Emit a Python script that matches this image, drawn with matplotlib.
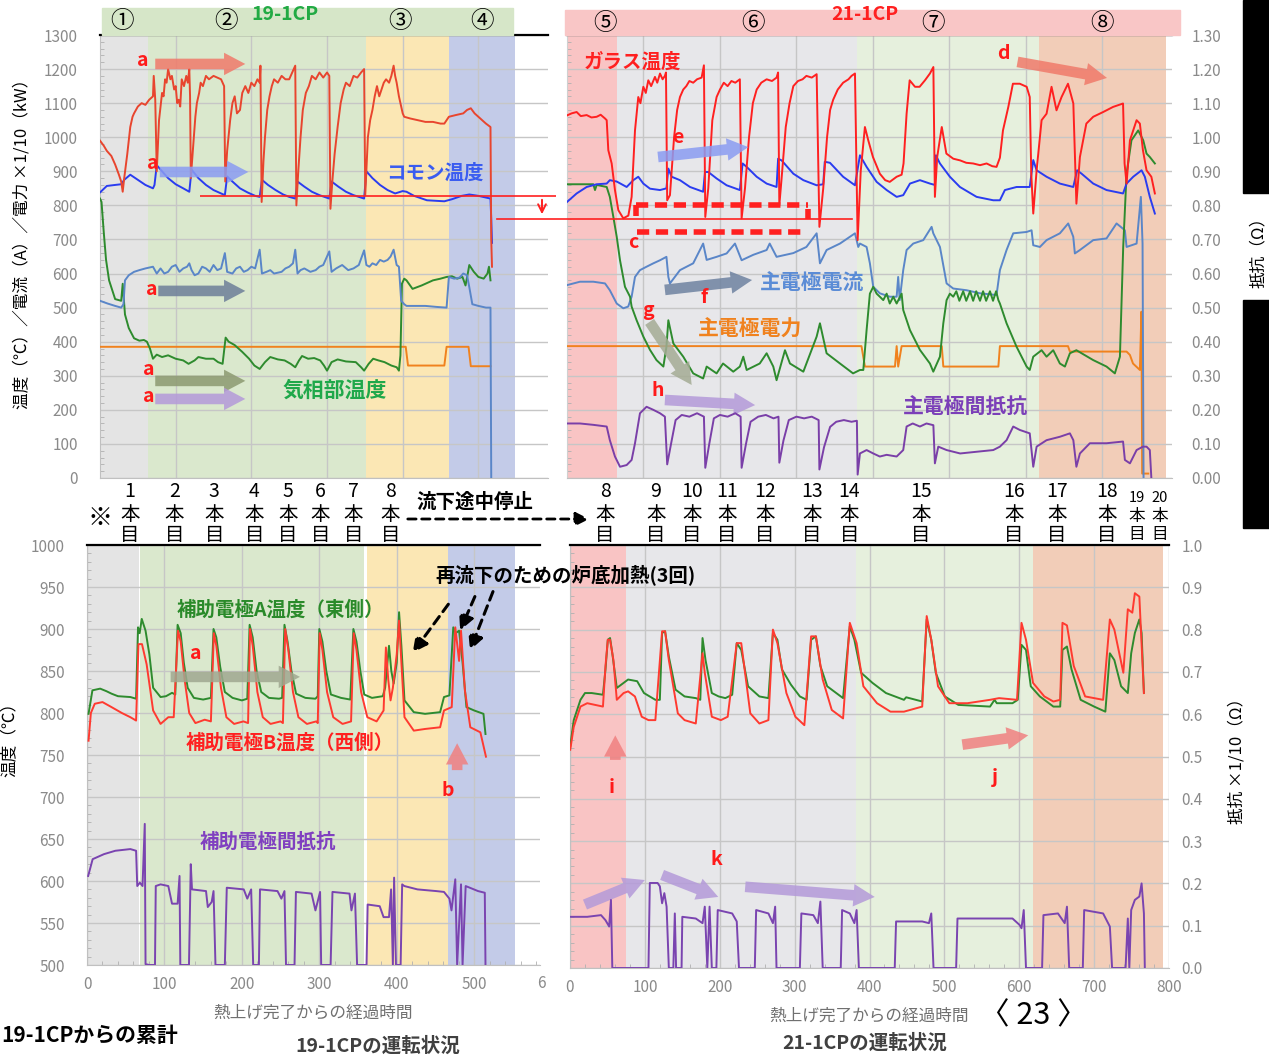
import numpy as np
import matplotlib
matplotlib.use("Agg")
import matplotlib.pyplot as plt
from matplotlib.patches import Rectangle
from matplotlib.lines import Line2D
from matplotlib.ticker import MultipleLocator, FormatStrFormatter
import matplotlib.transforms as mtrans

plt.rcParams['font.family'] = ['Noto Sans CJK JP', 'DejaVu Sans']

# ---------------- data: 19-1CP (top left), (time, value) ----------------
glass_19 = np.array([
    (0, 990), (5, 975), (9, 960), (15, 945), (20, 920), (25, 890), (28, 870), (30, 840), (32, 880), (36, 950),
    (40, 1030), (43, 1060), (45, 1070), (50, 1090), (55, 1100), (60, 1095), (65, 1110), (70, 1120), (71, 1180),
    (73, 1110), (75, 900), (78, 1050), (80, 1090), (82, 1130), (84, 1120), (86, 1170), (88, 1160), (90, 1200),
    (93, 1170), (95, 1180), (98, 1140), (100, 1150), (102, 1100), (104, 1110), (106, 1090), (108, 1170),
    (111, 1150), (114, 1180), (116, 1160), (118, 1200), (119, 1120), (120, 880), (124, 1000), (126, 1060),
    (128, 1100), (131, 1130), (133, 1160), (136, 1150), (140, 1180), (144, 1170), (150, 1180), (155, 1175),
    (160, 1170), (164, 1150), (165.5, 870), (168, 960), (172, 1050), (175, 1100), (178, 1120), (181, 1070),
    (185, 1080), (188, 1130), (192, 1150), (196, 1130), (200, 1160), (204, 1150), (208, 1170), (211, 1160),
    (212, 1210), (213.6, 810), (216, 930), (218, 1000), (221, 1080), (224, 1120), (227, 1150), (230, 1170),
    (235, 1160), (240, 1180), (245, 1170), (250, 1170), (253, 1185), (256, 1200), (258, 1210), (259.5, 800),
    (262, 900), (265, 1000), (268, 1080), (272, 1130), (276, 1150), (280, 1180), (285, 1170), (290, 1190),
    (295, 1175), (300, 1190), (303, 1180), (304.5, 790), (307, 870), (310, 950), (314, 1030), (318, 1100),
    (322, 1140), (325, 1160), (330, 1150), (335, 1180), (340, 1175), (345, 1190), (349, 1200), (350.5, 830),
    (354, 1000), (357, 1050), (360, 1080), (363, 1120), (366, 1150), (369, 1120), (372, 1140), (375, 1160),
    (378, 1170), (382, 1160), (385, 1180), (388, 1210), (390, 1180), (392, 1160), (395, 1120), (397, 1100),
    (400, 1070), (402, 1060), (410, 1055), (420, 1050), (430, 1045), (440, 1045), (450, 1040), (455, 1040),
    (461, 1060), (470, 1065), (480, 1070), (485, 1080), (490, 1085), (495, 1070), (500, 1060), (505, 1050),
    (510, 1040), (516, 1030), (517, 700), (518, 620)])

common_19 = np.array([
    (0, 838), (9, 857), (20, 860), (28, 862), (32, 875), (40, 890), (50, 875), (60, 860), (70, 850), (72, 860),
    (75, 918), (82, 900), (90, 880), (100, 862), (110, 850), (118, 840), (121, 905), (130, 880), (140, 860),
    (150, 845), (160, 835), (165, 830), (168, 885), (175, 870), (185, 850), (195, 838), (205, 828), (211, 825),
    (214, 875), (222, 860), (232, 845), (242, 832), (250, 825), (258, 820), (261, 870), (270, 855), (280, 840),
    (290, 830), (303, 820), (306, 870), (315, 855), (325, 840), (335, 830), (349, 820), (352, 900), (360, 880),
    (370, 860), (380, 845), (390, 835), (400, 842), (405, 840), (415, 828), (432, 815), (455, 812), (465, 818),
    (478, 828), (488, 832), (500, 828), (512, 822), (516, 820), (517, 760), (518, 690)])

current_19 = np.array([
    (0, 520), (10, 512), (20, 505), (28, 500), (31, 510), (33, 580), (38, 595), (45, 605), (52, 610), (60, 615),
    (70, 620), (75, 600), (80, 615), (85, 600), (90, 605), (95, 620), (100, 625), (105, 605), (110, 615),
    (115, 620), (118, 630), (121, 610), (125, 595), (130, 600), (135, 620), (140, 615), (145, 605), (150, 625),
    (155, 610), (160, 615), (165, 660), (168, 605), (175, 600), (180, 615), (185, 620), (190, 605), (195, 610),
    (200, 620), (205, 615), (211, 670), (214, 600), (220, 605), (225, 610), (230, 600), (240, 605), (245, 615),
    (250, 620), (255, 630), (258, 670), (261, 600), (265, 610), (270, 615), (278, 605), (285, 610), (290, 620),
    (295, 625), (303, 665), (306, 605), (312, 615), (320, 625), (328, 610), (335, 615), (342, 625), (349, 668),
    (352, 625), (356, 620), (360, 630), (365, 625), (370, 640), (375, 635), (380, 640), (384, 650), (388, 670),
    (392, 625), (395, 620), (398, 520), (402, 510), (405, 505), (420, 505), (430, 505), (445, 502), (458, 500),
    (461, 590), (468, 585), (475, 588), (480, 600), (485, 595), (488, 560), (492, 510), (500, 505), (510, 500),
    (516, 500), (517, 0)])

gas_19 = np.array([
    (0, 820), (2, 810), (5, 720), (8, 640), (12, 580), (20, 525), (28, 520), (30, 570), (33, 480), (38, 440),
    (45, 410), (52, 403), (58, 405), (62, 400), (66, 380), (70, 350), (75, 362), (82, 355), (90, 360), (100, 350),
    (110, 345), (117, 335), (125, 345), (130, 355), (140, 350), (150, 350), (156, 340), (162, 335), (166, 412),
    (170, 400), (178, 390), (188, 370), (197, 350), (204, 330), (211, 320), (218, 340), (225, 355), (235, 348),
    (244, 345), (252, 335), (258, 325), (263, 345), (267, 358), (275, 350), (283, 352), (291, 345), (296, 330),
    (300, 315), (306, 340), (314, 348), (325, 342), (338, 340), (345, 325), (349, 315), (355, 335), (361, 350),
    (368, 345), (376, 340), (385, 330), (392, 325), (395, 315), (397, 360), (399, 570), (402, 585), (405, 580),
    (413, 555), (425, 565), (440, 580), (450, 585), (458, 590), (465, 592), (472, 585), (479, 590), (483, 565),
    (486, 600), (488, 625), (494, 605), (500, 590), (507, 585), (512, 600), (514, 620), (516, 580)])

power_19 = np.array([
    (0, 385), (100, 385), (200, 385), (300, 385), (404, 385), (407, 330), (455, 330), (458, 385), (487, 385),
    (490, 328), (516, 328)])

res_19 = np.array([  # ohm
    (0, 0.144), (9.4, 0.125), (18.8, 0.105), (25.8, 0.086), (30.5, 0.052), (33.8, 0.105), (42.3, 0.120),
    (51.6, 0.164), (56.3, 0.183), (65.7, 0.193), (71.4, 0.203), (73.7, 0.057), (77.5, 0.125), (84.5, 0.203),
    (90, 0.190), (93.9, 0.222), (98, 0.200), (103.3, 0.208), (108, 0.183), (112.7, 0.203), (117.4, 0.213),
    (120.7, 0.047), (124.4, 0.105), (131.5, 0.183), (136, 0.170), (140.8, 0.213), (145, 0.195), (150.2, 0.203),
    (155, 0.185), (159.6, 0.193), (165.3, 0.066), (169, 0.125), (178.4, 0.183), (183, 0.165), (187.8, 0.213),
    (192, 0.190), (197.2, 0.164), (202, 0.195), (206.6, 0.203), (213.6, 0.032), (218.3, 0.105), (225.4, 0.183),
    (230, 0.170), (234.7, 0.213), (240, 0.195), (244.1, 0.203), (249, 0.185), (253.5, 0.193), (258.2, 0.047),
    (262.9, 0.105), (272.3, 0.193), (277, 0.175), (281.7, 0.203), (286, 0.190), (291, 0.203), (296, 0.185),
    (300.5, 0.193), (302.8, 0.027), (307.5, 0.125), (314.6, 0.193), (319, 0.180), (324, 0.203), (330, 0.190),
    (338, 0.198), (343, 0.185), (347.4, 0.193), (348.8, 0.037), (354.5, 0.125), (361.5, 0.193), (366, 0.180),
    (371, 0.203), (376, 0.190), (380.3, 0.193), (385, 0.185), (389.7, 0.190), (399, 0.183), (403.8, 0.159),
    (420, 0.157), (432, 0.159), (445, 0.156), (455.4, 0.159), (465, 0.152), (479, 0.154), (490, 0.150),
    (502.3, 0.154), (515.5, 0.149), (516.4, 0)])

# ---------------- data: 21-1CP (top right) ----------------
glass_21 = np.array([
    (0, 1064), (6, 1070), (12.6, 1074), (18, 1062), (25.7, 1065), (32, 1058), (38.8, 1060), (44, 1066),
    (49.7, 1055), (51.9, 1050), (54, 962), (58.4, 923), (62.7, 845), (67.1, 786), (73.6, 762), (80.2, 770),
    (84.5, 825), (88.9, 1020), (93.2, 1118), (96, 1100), (99.8, 1148), (103, 1130), (106.3, 1167), (110, 1150),
    (115, 1177), (118, 1160), (121.6, 1187), (125, 1170), (128, 1180), (129.4, 1190), (131, 815), (134.6, 830),
    (140, 1000), (144, 1080), (147.7, 1118), (152, 1140), (156, 1150), (160, 1165), (165, 1160), (170, 1170),
    (176, 1175), (179, 1211), (180.8, 766), (184.7, 850), (190, 1050), (195.6, 1118), (200, 1140), (205, 1160),
    (210, 1150), (215, 1165), (220, 1160), (226, 1170), (228.3, 762), (232.7, 850), (238, 1000), (243, 1100),
    (248, 1140), (254, 1160), (261, 1170), (268, 1165), (274, 1175), (276, 1190), (277.6, 800), (280.6, 880),
    (286, 1030), (291, 1100), (295.9, 1150), (302, 1165), (308, 1170), (313, 1180), (320, 1175), (326.4, 1185),
    (330, 737), (335, 850), (340, 1000), (344, 1080), (348, 1110), (354, 1140), (361, 1160), (368, 1170),
    (372, 1180), (376.5, 1187), (380, 698), (384, 900), (389.5, 1030), (394, 990), (400, 942), (409, 893),
    (416, 874), (422, 869), (431, 884), (437.5, 890), (440, 923), (444, 1069), (448, 1167), (455, 1148),
    (461, 1148), (468, 1167), (474.5, 1187), (479, 1206), (481, 825), (484, 942), (490, 1030), (496, 952),
    (505, 937), (514, 932), (522, 925), (531, 923), (540, 918), (548.6, 923), (556, 915), (561.6, 913),
    (566, 940), (570, 1020), (577, 1089), (583, 1157), (592, 1157), (601, 1148), (605, 1118), (607, 893),
    (609.6, 776), (614, 903), (620.5, 1050), (627, 1069), (633.5, 1148), (640, 1079), (646.6, 1118),
    (655, 1157), (662, 1099), (666, 805), (670.6, 942), (679, 1040), (688, 1060), (701, 1074), (714, 1089),
    (722, 1095), (727, 1099), (729, 923), (731.6, 864), (736, 991), (744.7, 1050), (749, 1040), (753, 962),
    (757.7, 903), (764, 884), (768.6, 835)])

common_21 = np.array([
    (0, 810), (12.6, 835), (25.7, 854), (38.8, 862), (51.9, 864), (56, 874), (65, 870), (78, 854), (86.7, 874),
    (93.2, 884), (99.8, 864), (108.5, 849), (121.6, 845), (130, 850), (132.5, 908), (136.8, 884), (147.7, 874),
    (160.8, 854), (178, 840), (180.4, 898), (184.7, 898), (195.6, 879), (208.7, 859), (226, 845), (229.6, 923),
    (234.9, 913), (248, 884), (261, 864), (274, 854), (276, 937), (280.6, 932), (295.9, 893), (309, 874),
    (326.4, 859), (335, 862), (337, 928), (343.8, 925), (361, 884), (376.5, 859), (383, 947), (391.7, 913),
    (404.8, 869), (417.9, 845), (431, 825), (439.6, 830), (448.4, 864), (461.4, 874), (474.5, 864), (481, 860),
    (482.3, 947), (487.6, 923), (500.6, 884), (513.7, 854), (535.5, 825), (557.3, 815), (566, 815),
    (572.5, 845), (587.8, 854), (605, 854), (609.6, 933), (614, 903), (627, 884), (644.4, 864), (661.9, 854),
    (667, 903), (672.8, 893), (688, 864), (705.4, 845), (727, 835), (731.6, 864), (740.3, 884), (751.2, 903),
    (755.5, 884), (762, 825), (768.6, 776)])

current_21 = np.array([
    (0, 566), (17, 576), (34.4, 576), (49.7, 571), (56, 551), (65, 512), (73.6, 498), (80, 503), (84.5, 532),
    (88.9, 590), (95.4, 610), (104, 620), (112.9, 630), (121.6, 639), (130, 649), (132.5, 590), (134.6, 571),
    (147.7, 610), (165, 630), (178, 688), (182.6, 640), (195.6, 649), (208.7, 659), (219.6, 688), (228.3, 639),
    (243.6, 655), (261, 669), (265, 688), (274, 649), (295.9, 660), (313, 678), (326.4, 718), (330.7, 630),
    (339.4, 669), (356.9, 688), (376.5, 718), (380.8, 678), (383, 688), (391.7, 678), (396, 630), (400.4, 561),
    (409, 542), (422, 532), (431, 532), (433, 590), (435, 522), (439.6, 610), (444, 669), (452.7, 688),
    (465.8, 698), (476.7, 737), (478.9, 718), (487.6, 678), (496.3, 571), (505, 556), (522.4, 551),
    (539.9, 542), (561.6, 537), (566, 610), (574.7, 669), (583.4, 718), (600.9, 722), (607.4, 727),
    (609.6, 683), (618.3, 678), (627, 698), (644.4, 718), (655.3, 747), (661.9, 708), (664, 659), (670.6, 669),
    (688, 698), (705.4, 703), (718.5, 747), (729.4, 727), (731.6, 678), (744.7, 688), (750.3, 825),
    (752.5, 688), (753.8, 0)])

gas_21 = np.array([
    (0, 862), (34.4, 862), (36.6, 845), (38.8, 860), (51.9, 854), (56, 825), (60.6, 766), (65, 708), (69.3, 639),
    (75.8, 561), (82.4, 532), (84.5, 503), (91, 463), (99.8, 415), (108.5, 376), (117, 346), (126, 327),
    (130, 385), (132.5, 463), (139, 395), (152, 356), (165, 307), (178, 292), (182.6, 327), (195.6, 307),
    (204, 336), (217.4, 312), (226, 327), (230.5, 356), (234.9, 317), (252, 336), (261, 366), (269.7, 327),
    (274, 287), (285, 375), (291.5, 336), (309, 312), (326.4, 415), (330.7, 454), (339.4, 366), (356.9, 336),
    (374, 307), (383, 317), (387.4, 317), (391.7, 434), (396, 541), (400.4, 561), (404.8, 541), (409, 532),
    (413.5, 522), (417.9, 541), (422, 512), (426.6, 532), (431, 512), (437.5, 541), (439.6, 493), (448.4, 434),
    (461.4, 376), (474.5, 336), (478.9, 312), (487.6, 356), (492, 454), (496.3, 522), (500.6, 541), (505, 532),
    (509, 548), (513, 520), (518, 548), (522, 520), (527, 548), (531, 520), (535, 548), (540, 520), (544, 548),
    (548, 520), (553, 548), (557, 520), (561, 548), (564, 522), (566, 512), (574.7, 454), (587.8, 385),
    (600.9, 327), (605, 317), (609.6, 356), (620.5, 375), (627, 356), (635.7, 375), (644.4, 336), (651, 327),
    (657.5, 366), (666, 375), (688, 346), (705.4, 327), (716.3, 307), (722.9, 356), (727.2, 678), (731.6, 893),
    (738, 991), (746.8, 1020), (753.4, 991), (757.7, 952), (762, 942), (768.6, 923)])

power_21 = np.array([
    (0, 387), (385, 387), (389.5, 327), (428.8, 327), (431, 387), (433, 327), (437.5, 387), (490, 387),
    (492, 327), (564, 327), (566, 387), (655, 387), (657.5, 371), (731.6, 371), (736, 361), (740, 336),
    (749, 317), (751, 488), (752, 13), (760, 13)])

res_21 = np.array([  # ohm
    (0, 0.160), (17, 0.160), (34.4, 0.156), (51.9, 0.151), (56, 0.111), (62.7, 0.063), (69.3, 0.033),
    (78, 0.038), (84.5, 0.053), (88.9, 0.102), (95.4, 0.190), (104, 0.209), (112.9, 0.200), (121.6, 0.190),
    (128, 0.180), (131, 0.040), (136, 0.100), (142, 0.170), (150, 0.185), (160, 0.180), (170, 0.190),
    (179, 0.180), (180.8, 0.030), (186, 0.100), (192, 0.175), (200, 0.185), (210, 0.180), (220, 0.190),
    (227, 0.180), (228.3, 0.030), (234, 0.100), (240, 0.165), (250, 0.180), (260, 0.185), (270, 0.175),
    (276.5, 0.180), (277.6, 0.045), (283, 0.110), (290, 0.170), (300, 0.180), (310, 0.175), (320, 0.180),
    (329, 0.170), (330, 0.025), (336, 0.090), (344, 0.150), (352, 0.165), (362, 0.170), (372, 0.165),
    (379, 0.168), (380, 0.010), (383, 0.072), (391.7, 0.082), (400.4, 0.072), (409, 0.063), (417.9, 0.068),
    (431, 0.063), (439.6, 0.082), (444, 0.151), (452, 0.160), (461.4, 0.151), (470, 0.160), (479, 0.155),
    (481, 0.043), (485.4, 0.092), (496.3, 0.082), (514, 0.072), (535.5, 0.077), (557.3, 0.082), (566, 0.092),
    (574.7, 0.111), (583.4, 0.151), (592, 0.141), (605, 0.131), (609.6, 0.033), (614, 0.092), (627, 0.111),
    (644.4, 0.121), (657.5, 0.131), (662, 0.111), (666, 0.033), (670.6, 0.072), (683.6, 0.102), (705.4, 0.102),
    (727, 0.107), (729.4, 0.053), (736, 0.043), (744.7, 0.082), (753, 0.092), (757.7, 0.092), (762, 0.082),
    (764, 0)])

# ---------------- data: auxiliary electrodes (bottom) ----------------
auxA_19 = np.array([
    (2, 799), (7, 827), (17, 829), (25, 826), (31.7, 823), (40, 820), (56, 819), (63.4, 817), (65.9, 902),
    (68, 895), (70.7, 912), (75.6, 898), (80.5, 870), (85.4, 830), (95, 819), (102, 820), (109.8, 824),
    (114, 822), (117, 905), (121, 895), (125, 860), (130, 830), (138, 818), (150, 816), (160, 818), (163.4, 900),
    (167, 890), (172, 855), (178, 825), (188, 818), (200, 815), (207, 817), (210, 905), (214, 890), (219, 850),
    (225, 825), (235, 818), (248, 817), (252, 818), (255, 905), (259, 885), (264, 850), (270, 823), (282, 818),
    (295, 817), (298, 820), (300, 900), (304, 885), (309, 850), (315, 822), (328, 818), (340, 816), (344, 900),
    (348, 885), (353, 850), (358, 822), (368, 818), (382, 820), (385, 830), (390, 880), (393, 850), (396, 835),
    (400, 860), (403, 920), (406, 880), (410, 815), (422, 801), (436.6, 799), (456, 801), (461, 819), (468, 821),
    (473, 902), (476, 895), (480.5, 898), (485, 860), (490, 807), (500, 803), (512, 799), (514.6, 775)])

auxB_19 = np.array([
    (2, 767), (5, 800), (10, 811), (20, 813), (31.7, 807), (45, 800), (56, 795), (63.4, 791), (66.5, 882),
    (71, 882), (77, 858), (85.4, 803), (95, 787), (105, 795), (112, 795), (117.5, 898), (121, 885), (126, 840),
    (132, 800), (140, 788), (152, 792), (160, 790), (163.8, 895), (167, 880), (173, 830), (180, 795), (190, 787),
    (202, 790), (208, 788), (210.5, 900), (214, 880), (220, 825), (227, 795), (237, 787), (250, 790), (253, 788),
    (256, 900), (260, 875), (266, 825), (273, 795), (284, 787), (296, 790), (298, 788), (300.5, 895), (304, 875),
    (310, 825), (318, 795), (330, 787), (341, 790), (344.5, 895), (348, 875), (354, 825), (362, 795), (374, 790),
    (383, 803), (386, 878), (389, 840), (392, 815), (395, 830), (400, 870), (403, 910), (406, 860), (410, 795),
    (422, 779), (436.6, 781), (456, 783), (461, 803), (471, 807), (475.6, 902), (480.5, 862), (483, 898),
    (488, 827), (495, 783), (508, 777), (515.2, 748)])

aux_res_19 = np.array([  # x1/10 ohm
    (1.5, 0.212), (7.3, 0.252), (22, 0.264), (36.6, 0.272), (56, 0.276), (63.4, 0.272), (64.9, 0.188),
    (68.3, 0.196), (71.7, 0.188), (74.6, 0.336), (75.6, 0.002), (80.5, 0), (87.8, 0), (88.8, 0.188), (95, 0.192),
    (105, 0.188), (109.8, 0.146), (117, 0.146), (119.5, 0.212), (120.5, 0), (131.7, 0), (134, 0.24),
    (135.6, 0.18), (153.7, 0.176), (156, 0.138), (161, 0.15), (163.4, 0.176), (165.9, 0), (178, 0),
    (180.5, 0.184), (202.4, 0.18), (207, 0.158), (212, 0.18), (214.6, 0), (222, 0), (223.4, 0.18), (246, 0.176),
    (251, 0.158), (255, 0.176), (257, 0), (268, 0), (269.8, 0.174), (290, 0.17), (295, 0.13), (301, 0.174),
    (302.4, 0), (314.6, 0), (317, 0.174), (339, 0.17), (341.5, 0.13), (346, 0.17), (348.8, 0), (361, 0),
    (362.4, 0.144), (378, 0.14), (383, 0.114), (390, 0.114), (392.7, 0.18), (395, 0), (396.6, 0.208), (399, 0),
    (405, 0), (407, 0.192), (409.8, 0.188), (426.8, 0.18), (451, 0.176), (461, 0.174), (468, 0.158),
    (470.7, 0.13), (475.6, 0.204), (478, 0), (483, 0.192), (485, 0), (489, 0.188), (505, 0.176), (513.7, 0.172),
    (514.6, 0)])

auxA_21 = np.array([
    (0.3, 762), (5, 793), (14, 817), (20, 825), (29, 825), (44, 823), (47.4, 853), (50.5, 888), (53.5, 890),
    (56.5, 872), (62.5, 831), (71.6, 837), (77.6, 841), (89.7, 839), (98.8, 825), (114, 817), (120, 817),
    (123, 896), (127, 898), (132, 868), (141, 829), (153, 821), (168, 819), (174, 817), (177, 890), (181, 864),
    (189.4, 825), (198.5, 821), (207.5, 819), (216.6, 823), (222.7, 884), (228.7, 876), (237.8, 833),
    (252.9, 821), (265, 819), (271, 896), (277, 888), (283, 853), (295, 835), (307, 821), (316, 817), (322, 888),
    (328.4, 892), (334.4, 857), (343.5, 833), (355.6, 825), (364.7, 819), (373.7, 904), (379.8, 888),
    (388.8, 849), (404, 837), (422, 825), (446, 817), (449, 820), (470.4, 815), (476.4, 912), (482.5, 888),
    (488.5, 849), (500.6, 821), (518.7, 811), (561, 809), (567, 817), (570, 813), (591, 813), (598, 817),
    (603, 882), (609, 876), (615.4, 833), (627.5, 821), (645.6, 809), (654.7, 809), (657.7, 876), (663.7, 880),
    (669.8, 853), (682, 817), (700, 809), (715, 803), (721, 872), (727, 864), (736, 833), (745, 825),
    (749.5, 872), (754.4, 896), (760.4, 912), (763.4, 896), (766.5, 825)])

auxB_21 = np.array([
    (0.3, 758), (5, 785), (14, 809), (23, 813), (44, 809), (47.4, 857), (50.5, 888), (53.5, 888), (58, 864),
    (62.5, 817), (71.6, 825), (77.6, 827), (86.7, 821), (95.8, 797), (104.8, 793), (114, 793), (123, 898),
    (127, 898), (132, 864), (144, 801), (153, 793), (168, 789), (177, 872), (180, 849), (189.4, 797),
    (201.5, 793), (210.6, 797), (222.7, 884), (228.7, 884), (240.8, 801), (252.9, 789), (265, 793), (271, 900),
    (277, 884), (289, 825), (301, 797), (313, 787), (322, 892), (328.4, 892), (337.5, 841), (349.6, 805),
    (364.7, 795), (373.7, 908), (382.8, 884), (391.8, 833), (410, 813), (428, 803), (446, 803), (470.4, 809),
    (476.4, 916), (482.5, 888), (491.5, 833), (506.6, 813), (530.8, 813), (561, 817), (573, 819), (597, 817),
    (603, 908), (609, 888), (618.4, 837), (633.5, 821), (645.6, 815), (654.7, 817), (657.7, 908), (663.7, 905),
    (672.8, 857), (688, 821), (712, 817), (721, 912), (727, 900), (739, 849), (745, 924), (751, 920),
    (754.4, 943), (760.4, 939), (766.5, 825)])

aux_res_21 = np.array([  # x1/10 ohm
    (0, 0.121), (23, 0.121), (41.4, 0.125), (47.4, 0.113), (52.3, 0.098), (54.7, 0.161), (56.5, 0),
    (104.8, 0), (106.6, 0.201), (117, 0.201), (120, 0.193), (123, 0.153), (126, 0.177), (129, 0.145), (132, 0),
    (138, 0), (140, 0.129), (141.7, 0), (149, 0), (150, 0.121), (168, 0.117), (177, 0.106), (180, 0.145),
    (183.4, 0), (186.4, 0.145), (189.4, 0), (195.5, 0), (197.3, 0.137), (216.6, 0.129), (222.7, 0.110),
    (225.7, 0), (246.8, 0), (248.6, 0.137), (265, 0.129), (271, 0.106), (274, 0.145), (275.8, 0), (307, 0),
    (309, 0.129), (325, 0.125), (331, 0.106), (334.4, 0.157), (337.5, 0), (361.6, 0), (363.4, 0.137),
    (373.7, 0.129), (379.8, 0.106), (382.8, 0.137), (385.8, 0), (433.7, 0), (435.5, 0.110), (470.4, 0.110),
    (479.4, 0.106), (482.5, 0.129), (485.5, 0), (515.7, 0), (517.5, 0.117), (591, 0.117), (600.3, 0.102),
    (603, 0.094), (606, 0.137), (609, 0), (630.5, 0), (632.3, 0.125), (651.7, 0.129), (660.7, 0.106),
    (663.7, 0.145), (666.7, 0), (684.9, 0), (686.7, 0.137), (712, 0.129), (721, 0.098), (724, 0), (742, 0),
    (745, 0.117), (747, 0), (749.5, 0.137), (754.4, 0.161), (760.4, 0.169), (763.4, 0.200), (766.5, 0.129),
    (767.7, 0)])

# stage backgrounds (start, end, colour)
stages_top_19 = [(0, 64, '#e4e4e4'), (64, 352, '#dae8cd'), (352, 461, '#fbe7b4'), (461, 548, '#c3cbe8')]
stages_top_21 = [(0, 65, '#f9c4c4'), (65, 379, '#e7e7ea'), (379, 617, '#e6f0dd'), (617, 783, '#f2cdb8')]
stages_bot_19 = [(0, 67, '#e4e4e4'), (69, 358, '#dae8cd'), (361, 466, '#fbe7b4'), (466, 553, '#c3cbe8')]
stages_bot_21 = [(0, 75, '#f9c4c4'), (75, 382, '#e7e7ea'), (382, 618, '#e6f0dd'), (618, 792, '#f2cdb8')]

pour_19 = ['1', '2', '3', '4', '5', '6', '7', '8']
pour_t_19 = [39.7, 98.4, 151, 204, 248, 291, 335, 384]
pour_21 = ['8', '9', '10', '11', '12', '13', '14', '15', '16', '17', '18', '19', '20']
pour_t_21 = [49.7, 116, 163, 209, 259, 320, 369, 463, 584, 640.5, 706, 745, 775]

# ---------------- figure ----------------
W, H = 1269, 1056
fig = plt.figure(figsize=(W / 100, H / 100), dpi=100)
fig.patch.set_facecolor('white')


def fx(px):
    return px / W


def fy(py):
    return 1 - py / H


def make_axes(x0, y0, x1, y1):
    return fig.add_axes([fx(x0), fy(y1), fx(x1) - fx(x0), fy(y0) - fy(y1)])


TICK = dict(colors='#8a8a8a', labelsize=11, length=0)


def style(ax, xmax, ylo, yhi, ystep):
    ax.set_xlim(0, xmax)
    ax.set_ylim(ylo, yhi)
    ax.set_xticks(np.arange(100, xmax, 100))
    ax.set_yticks(np.arange(ylo, yhi + 1, ystep))
    ax.grid(True, color='#c6c6c6', lw=1.0)
    ax.set_axisbelow('line')
    ax.spines['right'].set_visible(False)
    ax.spines['top'].set_color('black')
    ax.spines['top'].set_linewidth(1.6)
    ax.spines['left'].set_color('#c0c0c0')
    ax.spines['bottom'].set_color('#c0c0c0')
    ax.tick_params(**TICK)
    ax.yaxis.set_minor_locator(MultipleLocator(ystep / 5))
    ax.tick_params(which='minor', direction='in', length=3, color='#b0b0b0')


def twin(ax, hi):
    t = ax.twinx()
    t.set_ylim(0, hi)
    for s in t.spines.values():
        s.set_visible(False)
    t.patch.set_visible(False)
    return t


def draw_stages(ax, stages):
    for a, b, c in stages:
        ax.axvspan(a, b, color=c, zorder=0, lw=0)


def line(ax, arr, color, lw=1.4):
    ax.plot(arr[:, 0], arr[:, 1], color=color, lw=lw, zorder=3)


def letter(ax, x, y, s, size=14):
    ax.text(x, y, s, color='#ff1a1a', fontsize=size, fontweight='bold', ha='center', va='center', zorder=6)


def block_arrow(ax, start, end, color, alpha=0.85):
    ax.annotate('', xy=end, xytext=start, annotation_clip=False,
                arrowprops=dict(arrowstyle='simple,head_width=0.95,head_length=0.9,tail_width=0.45',
                                mutation_scale=17, fc=color, ec='none', alpha=alpha, shrinkA=0, shrinkB=0),
                zorder=5)


RED = '#ff2020'
ORANGE_RED = '#e8452e'
BLUE = '#2a3cf0'
STEEL = '#5a86c8'
GREEN = '#2e8b2e'
ORANGE = '#f0821e'
PURPLE = '#7a3fa8'

# ---- top left: 19-1CP ----
ax1 = make_axes(100, 35, 548, 478)
style(ax1, 592, 0, 1300, 100)
ax1.tick_params(labelbottom=False, pad=16)
draw_stages(ax1, stages_top_19)
ax1r = twin(ax1, 1.3)
ax1r.set_yticks([])
line(ax1r, res_19, PURPLE)
line(ax1, power_19, ORANGE)
line(ax1, gas_19, GREEN)
line(ax1, current_19, STEEL)
line(ax1, common_19, BLUE)
line(ax1, glass_19, ORANGE_RED)
ax1r.set_zorder(ax1.get_zorder() - 0.5)
ax1.patch.set_visible(False)

letter(ax1, 57, 1226, 'a')
block_arrow(ax1, (73, 1215), (192, 1215), '#f07a6a')
letter(ax1, 70, 924, 'a')
block_arrow(ax1, (79, 898), (196, 898), '#8a9cf2')
ax1.text(442, 895, 'コモン温度', color='#3a5cf0', fontsize=14, fontweight='bold', ha='center', va='center', zorder=6)
ax1.hlines(827, 132, 602, color=RED, lw=1.2, clip_on=False, zorder=6)
letter(ax1, 69, 552, 'a')
block_arrow(ax1, (77, 549), (192, 549), '#6d7f99')
letter(ax1, 65, 317, 'a')
block_arrow(ax1, (73, 285), (192, 285), '#8c9a70')
letter(ax1, 65, 238, 'a')
block_arrow(ax1, (73, 232), (192, 232), '#b49ad9')
ax1.text(310, 258, '気相部温度', color='#1fa84a', fontsize=15, fontweight='bold', ha='center', va='center', zorder=6)

# ---- top right: 21-1CP ----
ax2 = make_axes(567, 35, 1172, 478)
style(ax2, 791, 0, 1300, 100)
ax2.tick_params(labelbottom=False, labelleft=False)
ax2.spines['left'].set_color('#d0d0d0')
draw_stages(ax2, stages_top_21)
ax2r = twin(ax2, 1.3)
ax2r.set_yticks(np.arange(0, 1.31, 0.1))
ax2r.yaxis.set_major_formatter(FormatStrFormatter('%.2f'))
ax2r.tick_params(**TICK)
ax2r.tick_params(pad=14)
line(ax2, power_21, ORANGE)
line(ax2, current_21, STEEL)
line(ax2, gas_21, GREEN)
line(ax2, common_21, BLUE)
line(ax2, glass_21, RED)
line(ax2r, res_21, PURPLE)

ax2.text(85, 1221, 'ガラス温度', color=RED, fontsize=14, fontweight='bold', ha='center', va='center', zorder=6)
letter(ax2, 570, 1247, 'd')
block_arrow(ax2, (589, 1221), (706, 1174), '#f07a6a')
letter(ax2, 145, 1000, 'e')
block_arrow(ax2, (119, 942), (237, 971), '#8a9cf2')
for seg in [((90, 315), (801, 801)), ((92, 313), (723, 723)), ((90, 90), (801, 770)), ((315, 315), (790, 760))]:
    ax2.plot(seg[0], seg[1], color=RED, lw=4, ls=(0, (2.2, 1.2)), zorder=6, solid_capstyle='butt')
letter(ax2, 86, 692, 'c')
letter(ax2, 106, 493, 'g')
block_arrow(ax2, (108, 458), (163, 273), '#a4ab94')
letter(ax2, 179, 531, 'f')
block_arrow(ax2, (128, 552), (242, 581), '#6e82a0')
ax2.text(320, 572, '主電極電流', color='#5b8cd6', fontsize=15, fontweight='bold', ha='center', va='center', zorder=6)
ax2.text(239, 437, '主電極電力', color=ORANGE, fontsize=15, fontweight='bold', ha='center', va='center', zorder=6)
letter(ax2, 118, 258, 'h')
block_arrow(ax2, (128, 229), (246, 214), '#b49ad9')
ax2.text(521, 208, '主電極間抵抗', color='#7b3fb8', fontsize=15, fontweight='bold', ha='center', va='center', zorder=6)

# ---- bottom left ----
ax3 = make_axes(87, 545, 540, 965)
style(ax3, 585, 500, 1000, 50)
ax3.set_xticks(np.arange(0, 501, 100))
ax3.tick_params(axis='y', pad=16)
ax3.tick_params(axis='x', pad=8)
ax3.xaxis.set_minor_locator(MultipleLocator(20))
draw_stages(ax3, stages_bot_19)
ax3r = twin(ax3, 1.0)
ax3r.set_yticks([])
line(ax3r, aux_res_19, '#7a44b0')
line(ax3, auxA_19, GREEN)
line(ax3, auxB_19, '#ff3a30')

ax3.text(250, 923, '補助電極A温度（東側）', color='#2a8a2a', fontsize=14, fontweight='bold', ha='center', va='center', zorder=6)
ax3.text(262, 764, '補助電極B温度（西側）', color=RED, fontsize=14, fontweight='bold', ha='center', va='center', zorder=6)
letter(ax3, 141, 871, 'a')
block_arrow(ax3, (108, 843), (275, 843), '#a0a890')
block_arrow(ax3, (478, 732), (478, 764), '#f08080')
letter(ax3, 466, 708, 'b')
ax3.text(234, 646, '補助電極間抵抗', color='#8040c0', fontsize=14, fontweight='bold', ha='center', va='center', zorder=6)
ax3.set_xlabel('熱上げ完了からの経過時間', color='#707070', fontsize=12, labelpad=8)

# ---- bottom right ----
ax4 = make_axes(570, 545, 1169, 968)
style(ax4, 800, 500, 1000, 50)
ax4.set_xticks(np.arange(0, 801, 100))
ax4.tick_params(axis='y', labelleft=False)
ax4.tick_params(axis='x', pad=8)
ax4.xaxis.set_minor_locator(MultipleLocator(20))
draw_stages(ax4, stages_bot_21)
ax4r = twin(ax4, 1.0)
ax4r.set_yticks(np.arange(0, 1.01, 0.1))
ax4r.yaxis.set_major_formatter(FormatStrFormatter('%.1f'))
ax4r.tick_params(**TICK)
ax4r.tick_params(pad=9)
line(ax4r, aux_res_21, '#7a44b0')
line(ax4, auxA_21, GREEN)
line(ax4, auxB_21, '#ff3a30')
letter(ax4, 55, 713, 'i')
block_arrow(ax4, (60.5, 746), (60.5, 775), '#f08080')
letter(ax4, 568, 725, 'j')
block_arrow(ax4, (524, 764), (612, 775), '#f08080')
letter(ax4, 195, 628, 'k')
block_arrow(ax4, (20, 575), (100, 604), '#b49ad9')
block_arrow(ax4, (123, 610), (198, 584), '#b49ad9')
block_arrow(ax4, (234, 596), (407, 584), '#b49ad9')
ax4.set_xlabel('熱上げ完了からの経過時間', color='#707070', fontsize=12, labelpad=8)

# ---- headers above the top panels ----
fig.patches.append(Rectangle((fx(102), fy(35)), fx(513) - fx(102), fy(8) - fy(35),
                             transform=fig.transFigure, color='#d6e6c8', zorder=0))
fig.patches.append(Rectangle((fx(565), fy(35)), fx(1180) - fx(565), fy(10) - fy(35),
                             transform=fig.transFigure, color='#f9c6c6', zorder=0))
fig.text(fx(285), fy(15), '19-1CP', color='#22aa44', fontsize=14, fontweight='bold', ha='center', va='center')
fig.text(fx(865), fy(15), '21-1CP', color=RED, fontsize=14, fontweight='bold', ha='center', va='center')
for s, px in zip(['①', '②', '③', '④'], [122, 226, 400, 482]):
    fig.text(fx(px), fy(22), s, fontsize=17, ha='center', va='center')
for s, px in zip(['⑤', '⑥', '⑦', '⑧'], [605, 753, 933, 1102]):
    fig.text(fx(px), fy(24), s, fontsize=17, ha='center', va='center')

# ---- pour number row ----
tr1 = mtrans.blended_transform_factory(ax1.transData, fig.transFigure)
tr2 = mtrans.blended_transform_factory(ax2.transData, fig.transFigure)
for lab, t in zip(pour_19, pour_t_19):
    fig.text(t, fy(492), lab, transform=tr1, fontsize=14, ha='center', va='center')
    fig.text(t, fy(514), '本', transform=tr1, fontsize=14, ha='center', va='center')
    fig.text(t, fy(535), '目', transform=tr1, fontsize=14, ha='center', va='center')
for lab, t in zip(pour_21, pour_t_21):
    small = int(lab) >= 19
    size = 12 if small else 14
    fig.text(t, fy(498 if small else 492), lab, transform=tr2, fontsize=10.5 if small else 14,
             ha='center', va='center')
    fig.text(t, fy(516 if small else 514), '本', transform=tr2, fontsize=size, ha='center', va='center')
    fig.text(t, fy(535), '目', transform=tr2, fontsize=size, ha='center', va='center')
fig.text(fx(100), fy(518), '※', fontsize=18, ha='center', va='center')
fig.text(fx(475), fy(502), '流下途中停止', fontsize=14, fontweight='bold', ha='center', va='center')
fig.add_artist(matplotlib.patches.FancyArrowPatch((fx(405), fy(519)), (fx(592), fy(519)),
                                                  transform=fig.transFigure, arrowstyle='-|>',
                                                  mutation_scale=20, color='black', lw=2, ls=(0, (3, 2))))

# ---- red reference line & arrow between top panels ----
fig.add_artist(Line2D([fx(497), fx(852)], [fy(219), fy(219)], color=RED, lw=1.2))
fig.add_artist(matplotlib.patches.FancyArrowPatch((fx(542), fy(197)), (fx(542), fy(217)),
                                                  transform=fig.transFigure, arrowstyle='->',
                                                  mutation_scale=14, color=RED, lw=1.4))

# ---- bottom annotations ----
fig.text(fx(566), fy(575), '再流下のための炉底加熱(3回)', fontsize=14, fontweight='bold', ha='center', va='center')
for (x0, y0), (x1, y1) in [((450, 602), (411, 655)), ((476, 594), (459, 633)), ((494, 589), (469, 653))]:
    fig.add_artist(matplotlib.patches.FancyArrowPatch((fx(x0), fy(y0)), (fx(x1), fy(y1)),
                                                      transform=fig.transFigure, arrowstyle='-|>',
                                                      mutation_scale=22, color='black', lw=2.2,
                                                      ls=(0, (3, 2))))

fig.text(fx(537), fy(983), '6', color='#8a8a8a', fontsize=11, ha='left', va='center')

# ---- axis titles ----
fig.text(fx(22), fy(240), '温度（℃）／電流（A）／電力 ×1/10（kW）', rotation=90, fontsize=12,
         ha='center', va='center')
fig.text(fx(10), fy(735), '温度（℃）', rotation=90, fontsize=12, ha='center', va='center')
fig.text(fx(1237), fy(757), '抵抗 ×1/10（Ω）', rotation=90, fontsize=12, ha='center', va='center')
fig.text(fx(1258), fy(248), '抵抗（Ω）', rotation=90, fontsize=12, ha='center', va='center', zorder=5)

# black blocks at the right edge
fig.patches.append(Rectangle((fx(1243), fy(193)), fx(1269) - fx(1243), fy(0) - fy(193),
                             transform=fig.transFigure, color='black', zorder=0))
fig.patches.append(Rectangle((fx(1243), fy(528)), fx(1269) - fx(1243), fy(300) - fy(528),
                             transform=fig.transFigure, color='black', zorder=0))

# ---- captions ----
fig.text(fx(1), fy(1036), '19-1CPからの累計', fontsize=15, fontweight='bold', ha='left', va='center')
fig.text(fx(378), fy(1046), '19-1CPの運転状況', fontsize=14, fontweight='bold', color='#404040',
         ha='center', va='center')
fig.text(fx(865), fy(1043), '21-1CPの運転状況', fontsize=14, fontweight='bold', color='#404040',
         ha='center', va='center')
fig.text(fx(1033), fy(1016), '〈 23 〉', fontsize=22, ha='center', va='center')

fig.savefig('out.png', dpi=100)
